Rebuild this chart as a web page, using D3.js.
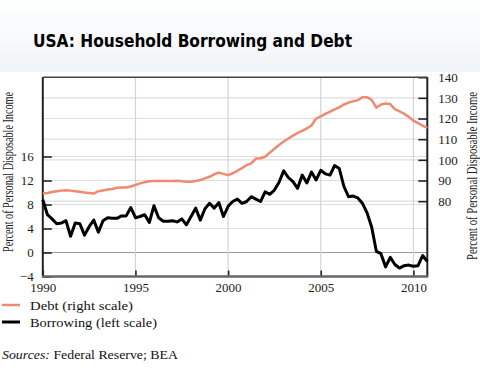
<!DOCTYPE html>
<html><head><meta charset="utf-8">
<script src="https://cdn.jsdelivr.net/npm/d3@7/dist/d3.min.js"></script>
<style>
html,body{margin:0;padding:0;background:#fff;}
svg{display:block;}
</style></head>
<body>
<svg id="chart" width="480" height="392"></svg>
<script>
// Quarterly data, 1990Q1 .. 2010Q4
const startYear = 1990;
const borrowing = [
 8.8, 6.3, 5.6, 4.8, 4.9, 5.3, 2.7, 4.9, 4.8, 2.9,
 4.3, 5.4, 3.4, 5.3, 5.8, 5.7, 5.7, 6.1, 6.1, 7.5,
 5.8, 6.0, 6.3, 5.0, 7.8, 5.8, 5.2, 5.2, 5.3, 5.1,
 5.6, 4.6, 6.0, 7.4, 5.4, 7.3, 8.2, 7.4, 8.3, 6.0,
 7.7, 8.5, 8.9, 8.2, 8.5, 9.3, 8.9, 8.5, 10.1, 9.7,
 10.4, 11.7, 13.6, 12.5, 11.8, 10.7, 12.9, 11.6, 13.4, 12.1,
 13.7, 13.1, 12.9, 14.5, 14.0, 11.0, 9.3, 9.4, 9.1, 8.2,
 6.6, 4.2, 0.2, -0.2, -2.4, -0.8, -2.0, -2.6, -2.2, -2.1,
 -2.3, -2.2, -0.5, -1.5
];
const debt = [
 83.7, 84.0, 84.4, 84.8, 85.1, 85.3, 85.1, 84.8, 84.5, 84.2,
 84.0, 83.7, 84.8, 85.2, 85.6, 85.9, 86.5, 86.6, 86.6, 87.1,
 87.8, 88.6, 89.2, 89.6, 89.7, 89.7, 89.7, 89.8, 89.7, 89.9,
 89.6, 89.4, 89.4, 89.8, 90.2, 91.0, 91.8, 93.0, 93.8, 93.2,
 92.6, 93.5, 94.7, 96.0, 97.4, 98.3, 100.6, 100.8, 101.5, 103.5,
 105.4, 107.2, 108.9, 110.3, 111.7, 113.0, 114.0, 115.2, 116.6, 120.0,
 121.0, 122.2, 123.3, 124.4, 125.4, 126.8, 127.7, 128.3, 128.9, 130.3,
 130.3, 129.0, 125.3, 126.8, 127.3, 127.0, 124.5, 123.5, 122.3, 120.8,
 119.0, 117.8, 116.6, 115.5
];
const xTicks = [1990, 1995, 2000, 2005, 2010];
const leftTicks = [-4, 0, 4, 8, 12, 16];
const leftGrid = [0, 4, 8, 12, 16];
const rightTicks = [80, 90, 100, 110, 120, 130, 140];
const rightGrid = [80, 90, 100, 110, 120, 130];
const title = "USA: Household Borrowing and Debt";
const axisTitle = "Percent of Personal Disposable Income";
const legendItems = [
  {label: "Debt (right scale)", color: "#ef8a6f", w: 2.5, len: 103},
  {label: "Borrowing (left scale)", color: "#000000", w: 3, len: 127}
];

const svg = d3.select("#chart");
const L = 42.8, R = 427.3, T = 77.2, B = 276.5;

// header gradient
const defs = svg.append("defs");
const g0 = defs.append("linearGradient").attr("id","hdr").attr("x1",0).attr("y1",0).attr("x2",0).attr("y2",1);
g0.append("stop").attr("offset","0%").attr("stop-color","#ffffff");
g0.append("stop").attr("offset","100%").attr("stop-color","#f0f3f7");
svg.append("rect").attr("x",0).attr("y",0).attr("width",480).attr("height",72).attr("fill","url(#hdr)");

svg.append("text").attr("x",33).attr("y",46.5)
  .attr("font-family","DejaVu Sans").attr("font-weight","bold").attr("font-size",17)
  .attr("textLength",319).attr("lengthAdjust","spacingAndGlyphs")
  .attr("fill","#000").text(title);

const x = d3.scaleLinear().domain([1990, 2010.75]).range([L, R]);
const yL = d3.scaleLinear().domain([-4, (B - T) / 6 - 4]).range([B, T]);
const yR = d3.scaleLinear().domain([140 - (B - T) / 2.066, 140]).range([B, T]);

const grid = svg.append("g");
grid.selectAll("line.rg").data(rightGrid).join("line")
  .attr("x1",L).attr("x2",R).attr("y1",d=>yR(d)).attr("y2",d=>yR(d))
  .attr("stroke","#dedede").attr("stroke-width",1.2);
grid.selectAll("line.lg").data(leftGrid).join("line")
  .attr("x1",L).attr("x2",R).attr("y1",d=>yL(d)).attr("y2",d=>yL(d))
  .attr("stroke",d=>d===0?"#9a9a9a":"#dedede").attr("stroke-width",1.2);
grid.selectAll("line.vg").data(xTicks.slice(1)).join("line")
  .attr("x1",d=>x(d)).attr("x2",d=>x(d)).attr("y1",T).attr("y2",B)
  .attr("stroke","#d4d4d4").attr("stroke-width",1.2);

const fontSerif = "'Liberation Serif', 'DejaVu Serif', serif";

function styleAxis(g){
  g.select(".domain").remove();
  g.selectAll(".tick line").attr("stroke","#222").attr("stroke-width",1.6);
  g.selectAll(".tick text").attr("font-family",fontSerif).attr("font-size",13).attr("fill","#222");
}

svg.append("g").attr("transform",`translate(${L},0)`)
  .call(d3.axisLeft(yL).tickValues(leftTicks).tickSize(-9).tickPadding(9).tickFormat(d3.format("d")))
  .call(styleAxis);
svg.append("g").attr("transform",`translate(${R},0)`)
  .call(d3.axisRight(yR).tickValues(rightTicks).tickSize(-9).tickPadding(11).tickFormat(d3.format("d")))
  .call(styleAxis);
svg.append("g").attr("transform",`translate(0,${B})`)
  .call(d3.axisBottom(x).tickValues(xTicks).tickSize(-6).tickPadding(6).tickFormat(d3.format("d")))
  .call(styleAxis);

// frame
svg.append("line").attr("x1",L).attr("x2",R).attr("y1",T).attr("y2",T).attr("stroke","#444").attr("stroke-width",1.5);
svg.append("line").attr("x1",L).attr("x2",L).attr("y1",T).attr("y2",B).attr("stroke","#222").attr("stroke-width",2);
svg.append("line").attr("x1",R).attr("x2",R).attr("y1",T).attr("y2",B).attr("stroke","#222").attr("stroke-width",2);
svg.append("line").attr("x1",L-1).attr("x2",R+1).attr("y1",B).attr("y2",B).attr("stroke","#666").attr("stroke-width",2.5);

// lines
const q = i => startYear + i / 4;
svg.append("path").datum(debt)
  .attr("d", d3.line().x((d,i)=>x(q(i))).y(d=>yR(d)))
  .attr("fill","none").attr("stroke","#ef8a6f").attr("stroke-width",2.5).attr("stroke-linejoin","round");
svg.append("path").datum(borrowing)
  .attr("d", d3.line().x((d,i)=>x(q(i))).y(d=>yL(d)))
  .attr("fill","none").attr("stroke","#000").attr("stroke-width",3).attr("stroke-linejoin","round");

// axis titles
svg.append("text").attr("transform","translate(12.5,172) rotate(-90)")
  .attr("text-anchor","middle").attr("font-family",fontSerif).attr("font-size",14)
  .attr("textLength",160).attr("lengthAdjust","spacingAndGlyphs").attr("fill","#222").text(axisTitle);
svg.append("text").attr("transform","translate(476.5,176) rotate(-90)")
  .attr("text-anchor","middle").attr("font-family",fontSerif).attr("font-size",14)
  .attr("textLength",168).attr("lengthAdjust","spacingAndGlyphs").attr("fill","#222").text(axisTitle);

// legend
const lg = svg.append("g");
legendItems.forEach((it, k) => {
  const yy = 305 + k * 17;
  lg.append("line").attr("x1",2).attr("x2",20).attr("y1",yy).attr("y2",yy)
    .attr("stroke",it.color).attr("stroke-width",it.w);
  lg.append("text").attr("x",30).attr("y",yy+4.5)
    .attr("font-family",fontSerif).attr("font-size",13.5)
    .attr("textLength",it.len).attr("lengthAdjust","spacingAndGlyphs")
    .attr("fill","#111").text(it.label);
});

const src = svg.append("text").attr("x",2).attr("y",358.5)
  .attr("font-family",fontSerif).attr("font-size",13.5).attr("fill","#111")
  .attr("textLength",176).attr("lengthAdjust","spacingAndGlyphs");
src.append("tspan").attr("font-style","italic").text("Sources:");
src.append("tspan").text(" Federal Reserve; BEA");
</script>
</body></html>
